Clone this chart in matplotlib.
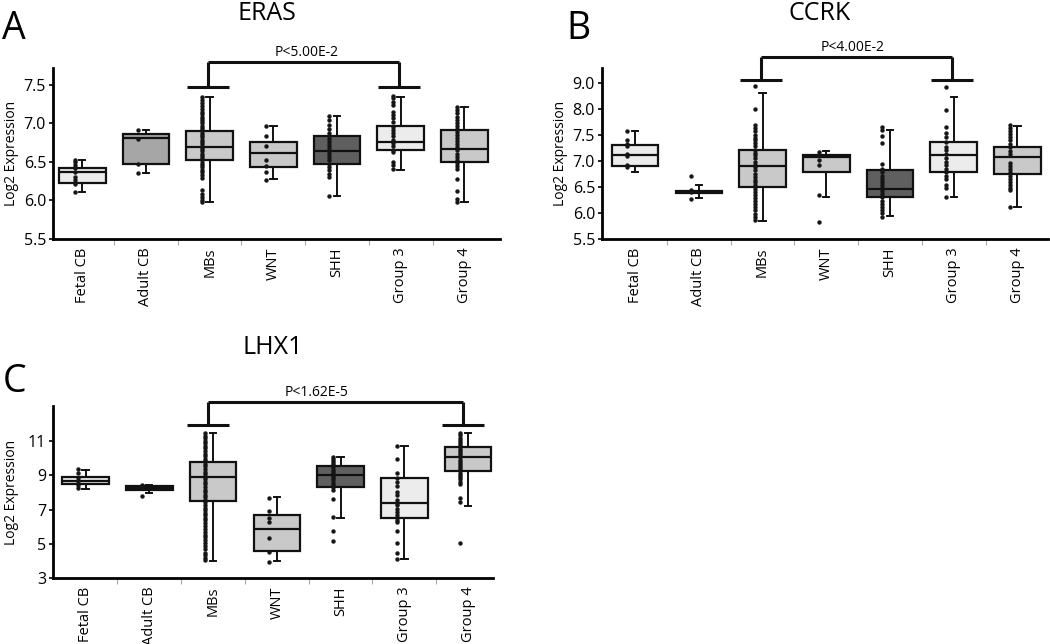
import numpy as np
import matplotlib
import matplotlib.pyplot as plt

matplotlib.use('agg')
plt.rcParams['font.family'] = ['Open Sans', 'DejaVu Sans']

# Constants
BIGFONT = 27
TITLEFONT = 18
MIDFONT = 9.5
SMFONT = 9

groups = ['Fetal CB', 'Adult CB', 'MBs', 'WNT', 'SHH', 'Group 3', 'Group 4']

# ---- ERAS (A) ----
q1_a = [6.23, 6.47, 6.52, 6.43, 6.48, 6.65, 6.50]
med_a = [6.37, 6.81, 6.69, 6.62, 6.64, 6.76, 6.67]
q3_a = [6.42, 6.86, 6.90, 6.76, 6.84, 6.97, 6.92]
lo_a = [6.11, 6.36, 5.98, 6.28, 6.06, 6.40, 5.98]
hi_a = [6.52, 6.92, 7.35, 6.97, 7.10, 7.35, 7.22]
dots_a = [
    [6.53, 6.50, 6.46, 6.42, 6.37, 6.31, 6.26, 6.22, 6.11],
    [6.92, 6.80, 6.47, 6.36],
    [7.35, 7.31, 7.27, 7.23, 7.19, 7.15, 7.12, 7.09, 7.06, 7.03, 7.00, 6.97, 6.94,
     6.91, 6.88, 6.85, 6.82, 6.79, 6.76, 6.73, 6.70, 6.67, 6.64, 6.61, 6.58, 6.55,
     6.52, 6.49, 6.46, 6.43, 6.40, 6.37, 6.33, 6.29, 6.13, 6.09, 6.05, 6.01, 5.98],
    [6.97, 6.84, 6.71, 6.52, 6.45, 6.37, 6.27],
    [7.10, 7.04, 6.98, 6.93, 6.88, 6.84, 6.80, 6.76, 6.72, 6.68, 6.64, 6.60, 6.56,
     6.52, 6.48, 6.44, 6.40, 6.35, 6.31, 6.06],
    [7.36, 7.33, 7.28, 7.24, 7.15, 7.11, 7.07, 7.02, 6.96, 6.92, 6.88, 6.84, 6.79,
     6.75, 6.71, 6.66, 6.63, 6.50, 6.46, 6.41],
    [7.22, 7.17, 7.13, 7.09, 7.05, 7.01, 6.97, 6.93, 6.89, 6.85, 6.81, 6.77, 6.73,
     6.69, 6.65, 6.61, 6.57, 6.53, 6.49, 6.45, 6.41, 6.28, 6.12, 6.02, 5.98],
]
colors_a = ['#ececec', '#a6a6a6', '#c9c9c9', '#c9c9c9', '#5f5f5f', '#ececec', '#c9c9c9']
yticks_a = [5.5, 6.0, 6.5, 7.0, 7.5]
ylabels_a = ['5.5', '6.0', '6.5', '7.0', '7.5']

# ---- CCRK (B) ---- (values in plotted axis units)
q1_b = [6.90, 6.38, 6.51, 6.79, 6.31, 6.78, 6.76]
med_b = [7.12, 6.40, 6.90, 7.07, 6.47, 7.12, 7.07]
q3_b = [7.31, 6.43, 7.22, 7.12, 6.83, 7.36, 7.27]
lo_b = [6.79, 6.29, 5.85, 6.30, 5.94, 6.30, 6.12]
hi_b = [7.58, 6.53, 8.31, 7.20, 7.60, 8.24, 7.68]
dots_b = [
    [7.58, 7.40, 7.33, 7.28, 7.13, 7.10, 6.92, 6.88],
    [6.71, 6.44, 6.40, 6.26],
    [8.44, 8.01, 7.69, 7.63, 7.57, 7.51, 7.45, 7.40, 7.34, 7.28, 7.22, 7.16, 7.11,
     7.05, 6.99, 6.93, 6.88, 6.82, 6.76, 6.70, 6.64, 6.59, 6.53, 6.47, 6.41, 6.35,
     6.29, 6.23, 6.17, 6.11, 6.05, 5.99, 5.93, 5.87],
    [7.18, 7.12, 7.02, 6.92, 6.35, 5.83],
    [7.66, 7.60, 7.48, 7.35, 6.94, 6.85, 6.78, 6.72, 6.66, 6.60, 6.54, 6.48, 6.42,
     6.36, 6.30, 6.24, 6.18, 6.12, 6.06, 6.00, 5.93],
    [8.42, 7.99, 7.66, 7.53, 7.47, 7.37, 7.27, 7.21, 7.14, 7.06, 6.98, 6.92, 6.85,
     6.79, 6.72, 6.66, 6.54, 6.49, 6.30],
    [7.69, 7.64, 7.58, 7.52, 7.46, 7.40, 7.33, 7.27, 7.20, 7.14, 6.96, 6.90, 6.84,
     6.78, 6.72, 6.66, 6.60, 6.54, 6.48, 6.44, 6.12],
]
colors_b = ['#ececec', '#c9c9c9', '#c9c9c9', '#c9c9c9', '#5f5f5f', '#ececec', '#c9c9c9']
yticks_b = [5.5, 6.0, 6.5, 7.0, 7.5, 8.0, 8.5]
ylabels_b = ['5.5', '6.0', '6.5', '7.0', '7.5', '8.0', '9.0']

# ---- LHX1 (C) ----
q1_c = [8.48, 8.17, 7.47, 4.57, 8.34, 6.53, 9.26]
med_c = [8.67, 8.27, 8.91, 5.85, 9.02, 7.39, 10.05]
q3_c = [8.93, 8.36, 9.80, 6.67, 9.54, 8.86, 10.66]
lo_c = [8.21, 7.96, 4.01, 3.97, 6.52, 4.09, 7.18]
hi_c = [9.30, 8.46, 11.47, 7.72, 10.07, 10.70, 11.47]
dots_c = [
    [9.36, 9.11, 8.87, 8.67, 8.42, 8.23],
    [8.44, 8.35, 8.28, 7.78],
    [11.46, 11.31, 11.17, 11.02, 10.86, 10.72, 10.57, 10.41, 10.27, 10.12, 9.96,
     9.82, 9.66, 9.52, 9.37, 9.21, 9.06, 8.92, 8.76, 8.61, 8.47, 8.31, 8.16, 8.02,
     7.86, 7.71, 7.56, 7.42, 7.26, 7.11, 6.96, 6.81, 6.66, 6.51, 6.36, 6.21, 6.06,
     5.86, 5.71, 5.52, 5.37, 5.22, 5.02, 4.88, 4.72, 4.48, 4.33, 4.19, 4.05],
    [7.69, 6.91, 6.52, 6.25, 5.31, 4.53, 3.91],
    [10.07, 9.95, 9.83, 9.70, 9.58, 9.46, 9.33, 9.20, 9.08, 8.95, 8.82, 8.70, 8.57,
     8.44, 8.30, 8.15, 7.59, 6.57, 5.72, 5.16],
    [10.70, 9.98, 9.11, 8.85, 8.62, 8.37, 8.04, 7.84, 7.53, 7.41, 7.26, 7.06, 6.87,
     6.67, 6.38, 6.25, 5.74, 5.02, 4.44, 4.11],
    [11.45, 11.33, 11.20, 11.07, 10.94, 10.82, 10.69, 10.56, 10.43, 10.31, 10.18,
     10.05, 9.92, 9.80, 9.67, 9.54, 9.41, 9.29, 9.16, 9.03, 8.90, 8.77, 8.62, 8.48,
     7.68, 7.45, 5.02],
]
colors_c = ['#ececec', '#c9c9c9', '#c9c9c9', '#c9c9c9', '#5f5f5f', '#ececec', '#c9c9c9']
yticks_c = [3, 5, 7, 9, 11]
ylabels_c = ['3', '5', '7', '9', '11']


def draw_panel(ax, q1, med, q3, lo, hi, dots, colors, ylim, xlim, yticks, ylabels):
    stats = []
    for i in range(len(groups)):
        stats.append(dict(q1=q1[i], med=med[i], q3=q3[i], whislo=lo[i],
                          whishi=hi[i], fliers=[]))
    bp = ax.bxp(stats, positions=range(len(groups)), widths=0.73,
                capwidths=0.1, patch_artist=True, showfliers=False,
                boxprops=dict(linewidth=1.6, edgecolor='#111111'),
                medianprops=dict(linewidth=1.6, color='#111111'),
                whiskerprops=dict(linewidth=1.4, color='#111111'),
                capprops=dict(linewidth=1.4, color='#111111'))
    for patch, c in zip(bp['boxes'], colors):
        patch.set_facecolor(c)
    for i, vals in enumerate(dots):
        ax.plot(np.full(len(vals), i - 0.12), vals, 'o', ms=2.8,
                color='#151515', mec='#151515', mew=0.3, zorder=4)
    ax.set_xlim(xlim)
    ax.set_ylim(ylim)
    ax.set_yticks(yticks)
    ax.set_yticklabels(ylabels, fontsize=SMFONT + 2.5)
    ax.set_xticks(range(len(groups)))
    ax.set_xticklabels(groups, rotation=90, fontsize=MIDFONT + 1)
    ax.set_xticks(np.arange(len(groups) - 1) + 0.5, minor=True)
    ax.tick_params(axis='x', which='major', length=0, pad=6)
    ax.tick_params(axis='x', which='minor', length=4, color='#aaaaaa', width=0.8)
    ax.tick_params(axis='y', length=3, width=1.2, pad=2)
    for s in ['top', 'right']:
        ax.spines[s].set_visible(False)
    for s in ['left', 'bottom']:
        ax.spines[s].set_linewidth(2.0)
    ax.set_ylabel('Log2 Expression', fontsize=MIDFONT + 0.5)


def bracket(ax, x1, x2, ybar, ytop, text, xtext, ytext, dx=0.0):
    kw = dict(color='#111111', lw=2.2, clip_on=False, solid_capstyle='butt')
    for x in (x1 + dx, x2 + dx):
        ax.plot([x - 0.33, x + 0.33], [ybar, ybar], **kw)
        ax.plot([x, x], [ybar, ytop], **kw)
    ax.plot([x1 + dx, x2 + dx], [ytop, ytop], **kw)
    ax.text(xtext, ytext, text, ha='center', va='center', fontsize=SMFONT + 1)


fig = plt.figure(figsize=(10.5, 6.44), dpi=100)

axA = fig.add_axes([53 / 1050, 1 - 239 / 644, 447 / 1050, 171 / 644])
draw_panel(axA, q1_a, med_a, q3_a, lo_a, hi_a, dots_a, colors_a,
           (5.5, 7.72), (-0.46, 6.56), yticks_a, ylabels_a)
bracket(axA, 2, 5, 7.47, 7.80, 'P<5.00E-2', 3.53, 7.92, dx=-0.02)
axA.yaxis.set_label_coords(-34 / 447, 0.5)

axB = fig.add_axes([602 / 1050, 1 - 239 / 644, 446 / 1050, 171 / 644])
draw_panel(axB, q1_b, med_b, q3_b, lo_b, hi_b, dots_b, colors_b,
           (5.5, 8.79), (-0.52, 6.48), yticks_b, ylabels_b)
bracket(axB, 2, 5, 8.56, 9.0, 'P<4.00E-2', 3.42, 9.19, dx=-0.02)
axB.yaxis.set_label_coords(-34 / 446, 0.5)

axC = fig.add_axes([53 / 1050, 1 - 578 / 644, 440 / 1050, 172 / 644])
draw_panel(axC, q1_c, med_c, q3_c, lo_c, hi_c, dots_c, colors_c,
           (3, 13.05), (-0.51, 6.39), yticks_c, ylabels_c)
bracket(axC, 2, 6, 11.92, 13.26, 'P<1.62E-5', 3.63, 13.85, dx=-0.08)
axC.yaxis.set_label_coords(-34 / 440, 0.5)

# titles and panel letters
fig.text(267 / 1050, 1 - 13 / 644, 'ERAS', ha='center', va='center', fontsize=TITLEFONT)
fig.text(820 / 1050, 1 - 13 / 644, 'CCRK', ha='center', va='center', fontsize=TITLEFONT)
fig.text(273 / 1050, 1 - 348 / 644, 'LHX1', ha='center', va='center', fontsize=TITLEFONT)
fig.text(14 / 1050, 1 - 29 / 644, 'A', ha='center', va='center', fontsize=BIGFONT)
fig.text(578 / 1050, 1 - 29 / 644, 'B', ha='center', va='center', fontsize=BIGFONT)
fig.text(15 / 1050, 1 - 382 / 644, 'C', ha='center', va='center', fontsize=BIGFONT)

plt.savefig('out.png', dpi=100)
